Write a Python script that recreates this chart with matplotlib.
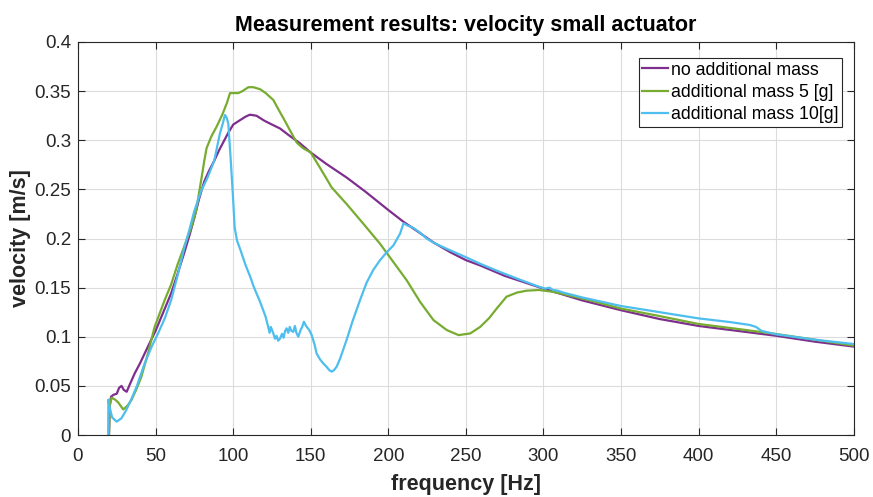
import numpy as np
import matplotlib.pyplot as plt

plt.rcParams['font.family'] = ['Liberation Sans', 'DejaVu Sans']

# no additional mass
f_none = [20.0, 20.5, 21.3, 23, 25, 26.5, 28.1, 29.5, 31.4, 33, 36.5, 40, 43, 46, 50, 55, 60,
          64, 68.6, 72, 75, 78, 81.4, 84.5, 87.8, 91, 94, 97, 100.1, 104, 108, 110.8, 115,
          120, 125, 130.2, 136, 143, 150, 160, 173.2, 185, 200, 209.8, 220, 229.1, 240, 250,
          259.2, 275, 300, 325, 350, 375, 400, 425, 450, 475, 500]
v_none = [0.0, 0.030, 0.039, 0.041, 0.042, 0.048, 0.050, 0.046, 0.044, 0.050, 0.0625, 0.073,
          0.083, 0.093, 0.106, 0.125, 0.144, 0.163, 0.186, 0.204, 0.221, 0.240, 0.258, 0.269,
          0.279, 0.290, 0.299, 0.308, 0.316, 0.320, 0.324, 0.326, 0.325, 0.320, 0.316, 0.312,
          0.305, 0.297, 0.2875, 0.276, 0.262, 0.248, 0.229, 0.217, 0.206, 0.196, 0.186,
          0.178, 0.1726, 0.162, 0.149, 0.137, 0.127, 0.118, 0.111, 0.106, 0.101, 0.095, 0.090]

# additional mass 5 [g]
f_5g = [20.0, 20.5, 21.7, 24, 26, 29.2, 32, 34.4, 37.5, 40.8, 45.1, 49.4, 55.8, 60, 64.3,
        68.5, 72.9, 76, 78.2, 80, 81.4, 82.9, 86, 89.4, 93, 96, 98, 103.3, 106, 109.8, 113,
        117.3, 121, 125.9, 129, 133.4, 137, 141, 145, 150, 156, 163.5, 173.2, 184, 194.7,
        203.3, 211.9, 220.5, 229.1, 237.7, 245.3, 252.8, 259.2, 265, 270, 276.2, 283, 289.1,
        297, 305, 312.7, 330, 350, 375, 400, 425, 450, 475, 500]
v_5g = [0.0, 0.030, 0.038, 0.036, 0.033, 0.026, 0.030, 0.0355, 0.046, 0.059, 0.083, 0.110,
        0.137, 0.153, 0.174, 0.192, 0.211, 0.227, 0.248, 0.265, 0.279, 0.292, 0.304, 0.314,
        0.326, 0.338, 0.348, 0.348, 0.350, 0.354, 0.354, 0.352, 0.348, 0.341, 0.332, 0.3196,
        0.309, 0.2976, 0.292, 0.2875, 0.272, 0.252, 0.235, 0.2149, 0.1946, 0.176, 0.1574,
        0.1355, 0.117, 0.1068, 0.1017, 0.1034, 0.110, 0.119, 0.129, 0.1408, 0.145, 0.1469,
        0.1476, 0.146, 0.1435, 0.137, 0.1287, 0.121, 0.113, 0.108, 0.1028, 0.097, 0.091]

# additional mass 10[g]
f_10g = [19.5, 19.6, 20.2, 22, 24.9, 28, 31, 34, 38, 43, 47.5, 51.5, 56, 60, 64, 68.6, 72,
         75, 79.3, 83.5, 87.8, 91.5, 93.5, 94.7, 95.8, 96.9, 98.5, 100, 101, 102.5, 104.9,
         108, 111.3, 113, 115.1, 117, 119.4, 121, 122.6, 123.5, 124.3, 125.9, 127, 128, 129,
         130.2, 131.5, 132.5, 133.5, 134.5, 135.5, 136.5, 137.5, 138.8, 139.8, 140.8, 142,
         143.5, 144.5, 145.6, 147, 149, 150.6, 152.5, 153.8, 156, 158, 160.2, 162, 163.5,
         165, 166.7, 169, 173.1, 177, 181.7, 186, 190.3, 194.7, 199, 203.3, 207.6, 209.8,
         212, 216.2, 220.4, 224.8, 230, 237.7, 250, 259.2, 271.9, 285, 297, 301, 304, 306,
         309, 312.7, 325, 350, 375, 400, 420, 433, 437, 440.5, 450, 475, 500]
v_10g = [0.0, 0.036, 0.030, 0.018, 0.0136, 0.017, 0.025, 0.035, 0.050, 0.073, 0.090, 0.103,
         0.119, 0.137, 0.161, 0.191, 0.210, 0.228, 0.248, 0.262, 0.279, 0.307, 0.318, 0.3257,
         0.323, 0.317, 0.279, 0.240, 0.211, 0.198, 0.1875, 0.173, 0.160, 0.152, 0.144, 0.137,
         0.127, 0.120, 0.110, 0.104, 0.110, 0.1035, 0.098, 0.101, 0.096, 0.098, 0.103,
         0.099, 0.106, 0.1086, 0.104, 0.110, 0.106, 0.105, 0.111, 0.104, 0.100, 0.107,
         0.110, 0.1153, 0.111, 0.107, 0.1018, 0.092, 0.083, 0.077, 0.073, 0.0695, 0.066,
         0.0645, 0.066, 0.0695, 0.078, 0.0967, 0.116, 0.137, 0.155, 0.168, 0.178, 0.186,
         0.193, 0.205, 0.2155, 0.2135, 0.2108, 0.206, 0.200, 0.195, 0.1895, 0.181, 0.1743,
         0.166, 0.158, 0.151, 0.149, 0.150, 0.1476, 0.147, 0.145, 0.140, 0.1313, 0.125,
         0.1187, 0.115, 0.112, 0.110, 0.106, 0.1025, 0.097, 0.0926]

fig = plt.figure(figsize=(8.73, 4.97), dpi=100)
ax = fig.add_axes([0.0893, 0.1247, 0.8887, 0.7908])

ax.plot(f_none, v_none, color='#7E2F8E', lw=1.6, label='no additional mass')
ax.plot(f_5g, v_5g, color='#77AC30', lw=1.6, label='additional mass 5 [g]')
ax.plot(f_10g, v_10g, color='#4DBEEE', lw=1.6, label='additional mass 10[g]')

ax.set_xlim(0, 500)
ax.set_ylim(0, 0.4)
ax.set_xticks(np.arange(0, 501, 50))
ax.set_yticks(np.arange(0, 0.41, 0.05))
ax.set_yticklabels(['0', '0.05', '0.1', '0.15', '0.2', '0.25', '0.3', '0.35', '0.4'])
ax.grid(True, color='#dcdcdc', lw=0.8)
ax.set_axisbelow(True)
ax.tick_params(direction='in', top=True, right=True, labelsize=13.5, length=5,
               colors='#262626')
ax.tick_params(axis='x', pad=9)
ax.tick_params(axis='y', pad=5)
for s in ax.spines.values():
    s.set_color('#262626')
    s.set_linewidth(0.8)

ax.set_xlabel('frequency [Hz]', fontsize=15.5, fontweight='bold', color='#262626', labelpad=7)
ax.set_ylabel('velocity [m/s]', fontsize=15.5, fontweight='bold', color='#262626', labelpad=2)
ax.set_title('Measurement results: velocity small actuator', fontsize=15.5,
             fontweight='bold', pad=8)

leg = ax.legend(loc='upper right', bbox_to_anchor=(0.9854, 0.9593), borderaxespad=0,
                fontsize=12.8, fancybox=False, framealpha=1, edgecolor='#262626',
                handlelength=1.45, handletextpad=0.2, labelspacing=0.3, borderpad=0.2)
leg.get_frame().set_linewidth(0.8)

fig.savefig('out.png', dpi=100)
